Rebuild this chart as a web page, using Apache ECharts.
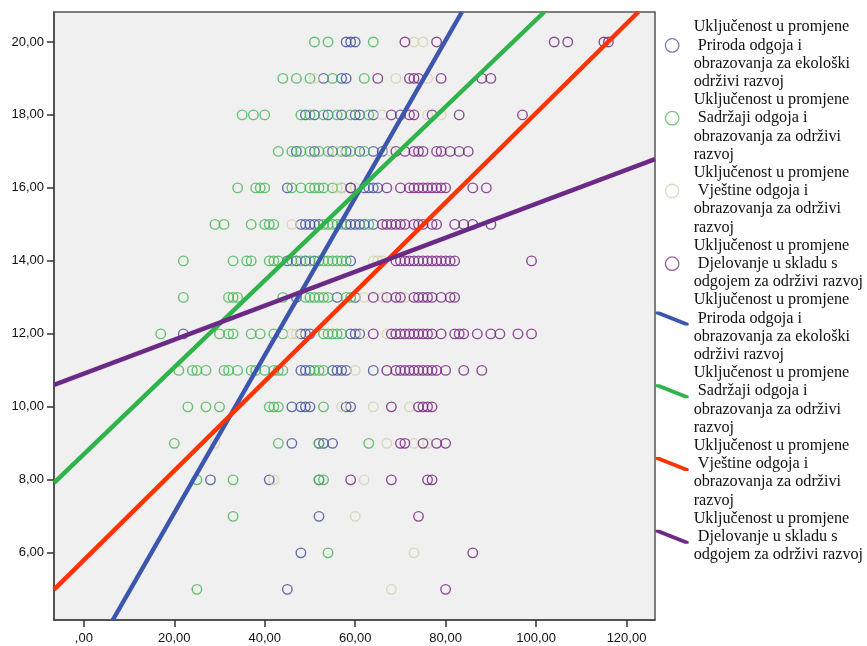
<!DOCTYPE html>
<html>
<head>
<meta charset="utf-8">
<script src="https://cdn.jsdelivr.net/npm/echarts@6/dist/echarts.min.js"></script>
<style>
  html, body { margin: 0; padding: 0; background: #ffffff; }
  #chart { width: 867px; height: 646px; }
</style>
</head>
<body>
<div id="chart"></div>
<script>
// ---- Tick labels ----
const xTicks = [0, 20, 40, 60, 80, 100, 120];
const yTicks = [6, 8, 10, 12, 14, 16, 18, 20];

// ---- Series labels (legend text) ----
const labelPriroda = 'Uključenost u promjene\n Priroda odgoja i\nobrazovanja za ekološki\nodrživi razvoj';
const labelSadrzaji = 'Uključenost u promjene\n Sadržaji odgoja i\nobrazovanja za održivi\nrazvoj';
const labelVjestine = 'Uključenost u promjene\n Vještine odgoja i\nobrazovanja za održivi\nrazvoj';
const labelDjelovanje = 'Uključenost u promjene\n Djelovanje u skladu s\nodgojem za održivi razvoj';

// ---- Scatter values: [y, [x values]] ----
const prirodaRows = [
  [20, [58, 59, 60]],
  [19, [53, 57, 58]],
  [18, [49, 51, 54, 57, 60, 61, 64, 70]],
  [17, [47, 51, 55, 58, 61, 64, 66]],
  [16, [45, 59, 62, 63, 64, 65]],
  [15, [48, 49, 50, 51, 52, 58, 59, 60, 61, 62, 64]],
  [14, [45, 47, 49, 51, 59]],
  [13, [47, 56, 60]],
  [12, [22, 48, 49, 50, 59, 60, 61]],
  [11, [48, 49, 50, 55, 56, 57, 58, 64]],
  [10, [46, 48, 49, 50, 58, 59]],
  [9, [46, 52, 53, 55]],
  [8, [28, 41, 52]],
  [7, [52]],
  [6, [48]],
  [5, [45]]
];
const sadrzajiRows = [
  [20, [51, 54, 64]],
  [19, [44, 47, 50, 55, 62]],
  [18, [35, 37.5, 40, 48, 50, 53, 56, 59, 63]],
  [17, [43, 46, 48, 50, 52, 54, 57, 59, 62]],
  [16, [34, 38, 39, 40, 46, 48, 50, 51, 52, 53, 55, 57]],
  [15, [29, 31, 37, 40, 41, 42, 53, 54, 55, 56, 57, 63]],
  [14, [22, 33, 36, 37, 41, 42, 43, 46, 48, 50, 52, 53, 54, 55, 56, 57, 58]],
  [13, [22, 32, 33, 34, 44, 49, 50, 51, 52, 53, 54, 58, 59]],
  [12, [17, 30, 32, 33, 37, 39, 42, 44, 53, 54, 55, 56, 57]],
  [11, [21, 24, 25, 27, 31, 32, 34, 37, 38, 40, 42, 43, 44, 51, 52, 53]],
  [10, [23, 27, 30, 41, 42, 43, 53]],
  [9, [20, 43, 52, 63]],
  [8, [25, 33, 52, 53]],
  [7, [33]],
  [6, [54]],
  [5, [25]]
];
const vjestineRows = [
  [20, [73, 75]],
  [19, [51, 69, 76]],
  [18, [66, 76, 79]],
  [17, [56, 68]],
  [16, [56, 57, 60]],
  [15, [46, 66]],
  [14, [64, 65, 66]],
  [13, [62, 66, 71]],
  [12, [46, 47, 62, 67]],
  [11, [60, 67]],
  [10, [57, 64, 72]],
  [9, [29, 67, 73, 76]],
  [8, [42, 62]],
  [7, [60]],
  [6, [73]],
  [5, [68]]
];
const djelovanjeRows = [
  [20, [71, 78, 104, 107, 115, 116]],
  [19, [65, 72, 73, 74, 79, 88, 90]],
  [18, [68, 72, 73, 77, 83, 97]],
  [17, [69, 71, 73, 74, 75, 78, 79, 81, 83, 85]],
  [16, [59, 67, 70, 72, 73, 74, 75, 76, 77, 78, 79, 80, 86, 89]],
  [15, [66, 67, 68, 69, 70, 71, 73, 74, 75, 77, 78, 82, 84, 86, 90]],
  [14, [69, 70, 71, 72, 73, 74, 75, 76, 77, 78, 79, 80, 81, 82, 99]],
  [13, [64, 67, 69, 70, 73, 74, 75, 76, 77, 79, 81, 82]],
  [12, [64, 68, 69, 70, 71, 72, 73, 74, 75, 76, 77, 79, 82, 83, 84, 87, 90, 92, 96, 99]],
  [11, [67, 69, 70, 71, 72, 73, 74, 75, 76, 77, 78, 80, 84, 88]],
  [10, [68, 74, 75, 76, 77]],
  [9, [70, 71, 75, 78, 80]],
  [8, [59, 68, 76, 77]],
  [7, [74]],
  [6, [86]],
  [5, [80]]
];

// ---- Fit lines: endpoints [x, y] ----
const prirodaFit = [[6.4, 4.16], [83.6, 20.82]];
const sadrzajiFit = [[-6.6, 7.92], [101.8, 20.82]];
const vjestineFit = [[-6.6, 4.99], [122.6, 20.82]];
const djelovanjeFit = [[-6.6, 10.6], [126.3, 16.79]];

// ---- Build ----
function flatten(rows) {
  const out = [];
  rows.forEach(function (r) { r[1].forEach(function (x) { out.push([x, r[0]]); }); });
  return out;
}
const labelMap = {
  'Priroda': labelPriroda, 'Sadržaji': labelSadrzaji, 'Vještine': labelVjestine, 'Djelovanje': labelDjelovanje,
  'Priroda pravac': labelPriroda, 'Sadržaji pravac': labelSadrzaji, 'Vještine pravac': labelVjestine, 'Djelovanje pravac': labelDjelovanje
};
const colBlue = '#46579e', colGreen = '#4bb85c', colBeige = '#d6d3ae', colPurple = '#7b2d85';
const lineBlue = '#3c56ad', lineGreen = '#2fb44a', lineRed = '#ff3300', linePurple = '#6c2a87';

function scatter(name, rows, color) {
  return {
    name: name, type: 'scatter', data: flatten(rows),
    symbol: 'circle', symbolSize: 9.5,
    itemStyle: { color: 'rgba(0,0,0,0)', borderColor: color, borderWidth: 1.4, opacity: 0.85 },
    z: 2
  };
}
function fit(name, pts, color) {
  return {
    name: name, type: 'line', data: pts, showSymbol: false, symbol: 'none',
    lineStyle: { color: color, width: 4.5 }, itemStyle: { color: color }, z: 3, animation: false
  };
}
// Legend icons: a 33 x 32 box; the mark sits on the second text line.
const BOX = 'M0,0 M33,32 ';
const circleUp = 'path://' + BOX + 'M9.75,7 A6.75,6.75 0 1 1 23.25,7 A6.75,6.75 0 1 1 9.75,7 Z';
const circleMid = 'path://' + BOX + 'M9.75,16 A6.75,6.75 0 1 1 23.25,16 A6.75,6.75 0 1 1 9.75,16 Z';
const lineUp = 'path://' + BOX + 'M0,0 L4,0 L33,11.5 L33,14 L29,14 L0,2.5 Z';
const lineMid = 'path://' + BOX + 'M0,9 L4,9 L33,20.5 L33,23 L29,23 L0,11.5 Z';

const fmt = function (v) { return v === 0 ? ',00' : v.toFixed(2).replace('.', ','); };
const hollow = function (c) { return { color: 'rgba(0,0,0,0)', borderColor: c, borderWidth: 1.3 }; };

const option = {
  animation: false,
  backgroundColor: '#ffffff',
  grid: {
    left: 54, top: 12, width: 601, height: 608,
    show: true, backgroundColor: '#f0f0f0', borderColor: '#555555', borderWidth: 1.5
  },
  xAxis: {
    type: 'value', min: -6.6, max: 126.3,
    axisLine: { show: true, onZero: false, lineStyle: { color: '#444', width: 1.5 } },
    axisTick: { show: true, length: 7, lineStyle: { color: '#333', width: 1.5 }, customValues: xTicks },
    axisLabel: { customValues: xTicks, formatter: fmt, color: '#111', fontSize: 13, fontFamily: 'Liberation Sans', margin: 12 },
    splitLine: { show: false }
  },
  yAxis: {
    type: 'value', min: 4.16, max: 20.82,
    axisLine: { show: true, onZero: false, lineStyle: { color: '#444', width: 1.5 } },
    axisTick: { show: true, length: 7, lineStyle: { color: '#333', width: 1.5 }, customValues: yTicks },
    axisLabel: { customValues: yTicks, formatter: fmt, color: '#111', fontSize: 13, fontFamily: 'Liberation Sans', margin: 10 },
    splitLine: { show: false }
  },
  legend: {
    orient: 'vertical', left: 655, top: 18, padding: 0, itemGap: 0, itemWidth: 33, itemHeight: 32,
    selectedMode: false,
    formatter: function (n) { return labelMap[n]; },
    textStyle: { fontFamily: 'Liberation Serif', fontSize: 16.2, color: '#111', lineHeight: 18.2 },
    data: [
      { name: 'Priroda', icon: circleUp, itemStyle: hollow('#5a68a8') },
      { name: 'Sadržaji', icon: circleUp, itemStyle: hollow('#5cc06a') },
      { name: 'Vještine', icon: circleUp, itemStyle: hollow('#d8d6bc') },
      { name: 'Djelovanje', icon: circleMid, itemStyle: hollow('#8a4a92') },
      { name: 'Priroda pravac', icon: lineUp, itemStyle: { color: lineBlue, borderWidth: 0 } },
      { name: 'Sadržaji pravac', icon: lineUp, itemStyle: { color: lineGreen, borderWidth: 0 } },
      { name: 'Vještine pravac', icon: lineUp, itemStyle: { color: lineRed, borderWidth: 0 } },
      { name: 'Djelovanje pravac', icon: lineMid, itemStyle: { color: linePurple, borderWidth: 0 } }
    ]
  },
  series: [
    scatter('Priroda', prirodaRows, colBlue),
    scatter('Sadržaji', sadrzajiRows, colGreen),
    scatter('Vještine', vjestineRows, colBeige),
    scatter('Djelovanje', djelovanjeRows, colPurple),
    fit('Priroda pravac', prirodaFit, lineBlue),
    fit('Sadržaji pravac', sadrzajiFit, lineGreen),
    fit('Vještine pravac', vjestineFit, lineRed),
    fit('Djelovanje pravac', djelovanjeFit, linePurple)
  ]
};
const chart = echarts.init(document.getElementById('chart'), null, { renderer: 'canvas' });
chart.setOption(option);
</script>
</body>
</html>
